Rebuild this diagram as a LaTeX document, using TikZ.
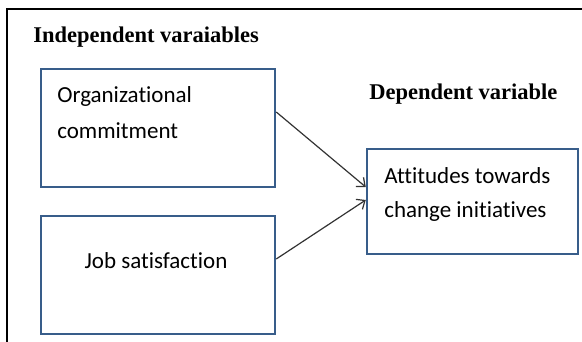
\documentclass[tikz,border=0pt]{standalone}
\usepackage{fontspec}
\setmainfont{Liberation Serif}
\newfontfamily\bodyfont[Ligatures=NoCommon]{Carlito}
\usetikzlibrary{arrows.meta}
\definecolor{boxblue}{RGB}{56,93,138}

\begin{document}
\begin{tikzpicture}[
            x = 1pt,
            y = -1pt,
            semithick
        ]
        \tikzstyle{varbox}=[
            draw = boxblue,
            line width = 2.5pt,
            fill = white,
            minimum width = 234pt,
            minimum height = 118pt
        ]
        \tikzstyle{boxtext}=[
            font = \bodyfont\fontsize{23}{36}\selectfont,
            align = left,
            inner sep = 0pt
        ]
        \tikzstyle{heading}=[
            font = \bfseries\fontsize{22.5}{27}\selectfont,
            inner sep = 0pt,
            anchor = base west
        ]
        \tikzstyle{link}=[
            draw = black!80,
            line width = 1.2pt,
            -{Straight Barb[length=7pt,width=12pt]}
        ]
        \useasboundingbox (0,0) rectangle (582,342);
        % frame
        \draw[line width = 2pt] (7,342) -- (7,9) -- (582,9);

        \node[heading] (indep) at (33,43) {Independent varaiables};
        \node[heading] (dep) at (369,100) {Dependent variable};

        \node[varbox] (org) at (158,128) {};
        \node[varbox] (job) at (158,275) {};
        \node[varbox, minimum width = 211pt, minimum height = 105pt] (att) at (472.5,201.5) {};

        \node[boxtext, anchor = west] (orgtext) at (57,113) {Organizational\\commitment};
        \node[boxtext] (jobtext) at (156,261) {Job satisfaction};
        \node[boxtext, anchor = west, font = \bodyfont\fontsize{23}{34}\selectfont] (atttext) at (384,194) {Attitudes towards\\change initiatives};

        \draw[link] ([yshift=16pt]org.east) -- ([yshift=14.5pt]att.west);
        \draw[link] ([yshift=16pt]job.east) -- ([yshift=1.5pt]att.west);
\end{tikzpicture}
\end{document}
